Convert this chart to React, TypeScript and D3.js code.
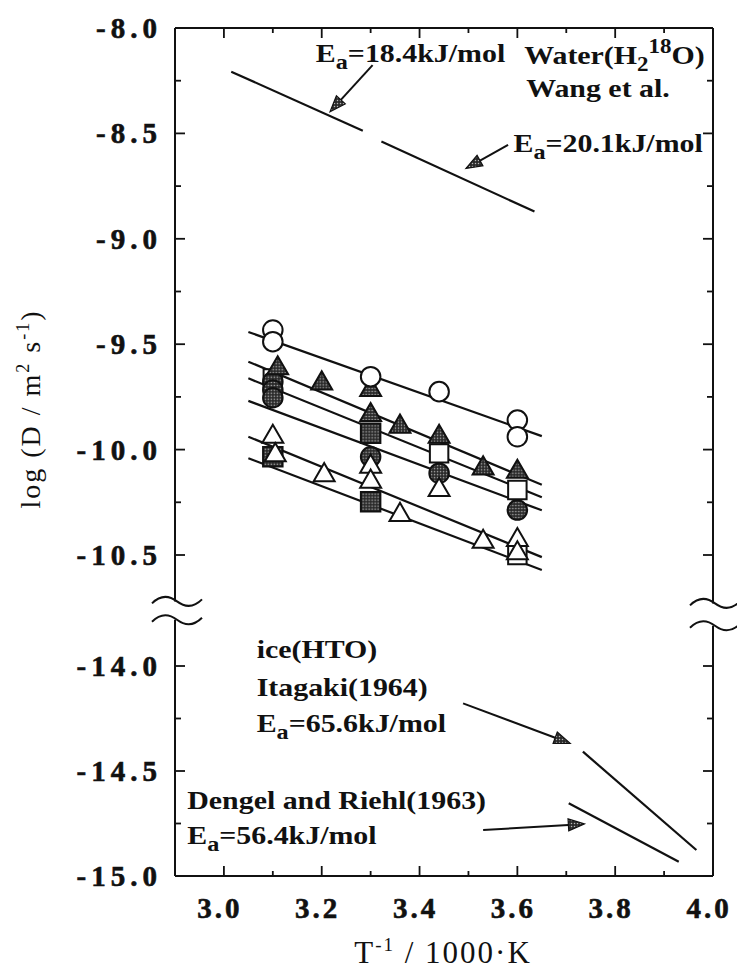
import React from 'react';
import * as d3 from 'd3';

// Arrhenius plot: log D vs 1/T, broken y axis (water above, ice below).

const W = 737;
const H = 972;
const FONT = '"Liberation Serif", "Times New Roman", serif';

const xMajor = [3.0, 3.2, 3.4, 3.6, 3.8, 4.0];
const xMinor = [3.1, 3.3, 3.5, 3.7, 3.9];
const yUpperMajor = [-8.0, -8.5, -9.0, -9.5, -10.0, -10.5];
const yUpperMinor = [-8.25, -8.75, -9.25, -9.75, -10.25];
const yLowerMajor = [-14.0, -14.5, -15.0];
const yLowerMinor = [-14.25, -14.75];

// Wang et al. water (H2 18O) lines
const waterLines = [
  [[3.015, -8.207], [3.284, -8.487]],
  [[3.322, -8.539], [3.635, -8.871]],
];

// ice (HTO) lines: Itagaki, Dengel and Riehl
const iceLines = [
  [[3.734, -14.408], [3.966, -14.876]],
  [[3.705, -14.654], [3.93, -14.932]],
];

// fitted lines through the measured points
const fitLines = [
  [[3.05, -9.442], [3.65, -9.936]],
  [[3.05, -9.583], [3.65, -10.167]],
  [[3.05, -9.662], [3.65, -10.226]],
  [[3.05, -9.769], [3.65, -10.288]],
  [[3.05, -9.939], [3.65, -10.51]],
  [[3.05, -10.041], [3.65, -10.571]],
];

const openCircles = [
  [3.1, -9.433], [3.1, -9.488], [3.3, -9.654], [3.44, -9.725], [3.6, -9.86], [3.6, -9.939],
];
const filledTriangles = [
  [3.11, -9.614], [3.2, -9.686], [3.3, -9.717], [3.3, -9.836], [3.36, -9.891],
  [3.44, -9.939], [3.53, -10.089], [3.6, -10.105],
];
const openSquares = [
  [3.1, -9.662], [3.44, -10.018], [3.6, -10.192], [3.6, -10.5],
];
const filledSquares = [
  [3.3, -9.923], [3.1, -10.034], [3.3, -10.247],
];
const filledCircles = [
  [3.1, -9.678], [3.1, -9.717], [3.1, -9.754], [3.3, -10.034], [3.44, -10.112], [3.6, -10.287],
];
const openTriangles = [
  [3.1, -9.939], [3.105, -10.026], [3.205, -10.121], [3.3, -10.081], [3.3, -10.152],
  [3.36, -10.31], [3.44, -10.192], [3.53, -10.437], [3.6, -10.429], [3.6, -10.492],
];

// annotation arrows [start, tip]
const upperArrows = [
  [[3.304, -8.176], [3.217, -8.397]],
  [[3.581, -8.555], [3.495, -8.666]],
];
const lowerArrows = [
  [[3.489, -14.178], [3.708, -14.368]],
  [[3.53, -14.781], [3.737, -14.752]],
];

function Ea({ value }: { value: string }) {
  return (
    <>
      <tspan>E</tspan>
      <tspan dy={7} fontSize={21}>a</tspan>
      <tspan dy={-7}>={value}kJ/mol</tspan>
    </>
  );
}

function Label({ x, y, children }: { x: number; y: number; children: React.ReactNode }) {
  return (
    <g transform={`translate(${x},${y}) scale(1.15,1)`}>
      <text fontFamily={FONT} fontWeight="bold" fontSize={26} fill="#111">
        {children}
      </text>
    </g>
  );
}

function Arrow({ from, to }: { from: number[]; to: number[] }) {
  const dx = to[0] - from[0];
  const dy = to[1] - from[1];
  const len = Math.hypot(dx, dy);
  const ux = dx / len;
  const uy = dy / len;
  const hl = 16;
  const hw = 6;
  const bx = to[0] - ux * hl;
  const by = to[1] - uy * hl;
  const pts = [
    [to[0], to[1]],
    [bx - uy * hw, by + ux * hw],
    [bx + uy * hw, by - ux * hw],
  ];
  return (
    <g>
      <line x1={from[0]} y1={from[1]} x2={bx} y2={by} stroke="#111" strokeWidth={2} />
      <polygon points={pts.map((p) => p.join(',')).join(' ')} fill="url(#stipple)" stroke="#111" strokeWidth={1.2} />
    </g>
  );
}

const tilde = 'M-25,2 C-17,-6 -8,-6 0,0 C8,6 17,6 25,-2';

export default function App() {
  const x = d3.scaleLinear().domain([2.9, 4.0]).range([175, 713]);
  const yUp = d3.scaleLinear().domain([-8.0, -10.5]).range([28, 555]);
  const yLo = d3.scaleLinear().domain([-14.0, -15.0]).range([666, 876]);

  const upLine = d3.line<number[]>().x((d) => x(d[0])).y((d) => yUp(d[1]));
  const loLine = d3.line<number[]>().x((d) => x(d[0])).y((d) => yLo(d[1]));

  const [left, right] = x.range();
  const top = yUp(-8.0);
  const bottom = yLo(-15.0);
  const breakUp = yUp(-10.72);
  const breakLo = yLo(-13.78);

  const markerSeries = [
    { data: openSquares, type: d3.symbolSquare, size: 340, fill: 'white' },
    { data: filledCircles, type: d3.symbolCircle, size: 300, fill: 'url(#stipple)' },
    { data: filledTriangles, type: d3.symbolTriangle, size: 190, fill: 'url(#stipple)' },
    { data: filledSquares, type: d3.symbolSquare, size: 380, fill: 'url(#stipple)' },
    { data: openCircles, type: d3.symbolCircle, size: 300, fill: 'white' },
    { data: openTriangles, type: d3.symbolTriangle, size: 190, fill: 'white' },
  ];

  const yTicks = [
    ...yUpperMajor.map((v) => ({ y: yUp(v), major: true })),
    ...yUpperMinor.map((v) => ({ y: yUp(v), major: false })),
    ...yLowerMajor.map((v) => ({ y: yLo(v), major: true })),
    ...yLowerMinor.map((v) => ({ y: yLo(v), major: false })),
  ];
  const xTicks = [
    ...xMajor.map((v) => ({ x: x(v), major: true })),
    ...xMinor.map((v) => ({ x: x(v), major: false })),
  ];

  return (
    <svg
      width={W}
      height={H}
      style={{ position: 'absolute', left: 0, top: 0, background: 'white' }}
    >
      <defs>
        <pattern id="stipple" width={3} height={3} patternUnits="userSpaceOnUse">
          <rect width={3} height={3} fill="#2a2a2a" />
          <circle cx={1.5} cy={1.5} r={0.75} fill="#b8b8b8" />
        </pattern>
      </defs>
      <rect width={W} height={H} fill="white" />

      {/* frame */}
      <g stroke="#111" strokeWidth={2} fill="none">
        <line x1={left} x2={right} y1={top} y2={top} />
        <line x1={left} x2={right} y1={bottom} y2={bottom} />
        <line x1={left} x2={left} y1={top} y2={breakUp} />
        <line x1={left} x2={left} y1={breakLo} y2={bottom} />
        <line x1={right} x2={right} y1={top} y2={breakUp + 2} />
        <line x1={right} x2={right} y1={breakLo + 6} y2={bottom} />
        <path d={tilde} transform={`translate(${left + 2},${breakUp})`} />
        <path d={tilde} transform={`translate(${left + 2},${breakLo})`} />
        <path d={tilde} transform={`translate(${right + 2},${breakUp + 2})`} />
        <path d={tilde} transform={`translate(${right + 2},${breakLo + 6})`} />
      </g>

      {/* ticks */}
      <g stroke="#111" strokeWidth={1.8}>
        {yTicks.map((t, i) => (
          <g key={`yt${i}`}>
            <line x1={left} x2={left + (t.major ? 10 : 6)} y1={t.y} y2={t.y} />
            <line x1={right} x2={right - (t.major ? 10 : 6)} y1={t.y} y2={t.y} />
          </g>
        ))}
        {xTicks.map((t, i) => (
          <g key={`xt${i}`}>
            <line x1={t.x} x2={t.x} y1={bottom} y2={bottom - (t.major ? 10 : 5)} />
            <line x1={t.x} x2={t.x} y1={top} y2={top + (t.major ? 10 : 5)} />
          </g>
        ))}
      </g>

      {/* tick labels */}
      <g
        fontFamily={FONT}
        fontWeight="bold"
        fontSize={29}
        fill="#111"
        stroke="#111"
        strokeWidth={0.6}
        letterSpacing={5}
      >
        {yUpperMajor.map((v) => (
          <text key={`yl${v}`} x={162} y={yUp(v) + 10} textAnchor="end">
            {v.toFixed(1)}
          </text>
        ))}
        {yLowerMajor.map((v) => (
          <text key={`yl${v}`} x={162} y={yLo(v) + 10} textAnchor="end">
            {v.toFixed(1)}
          </text>
        ))}
      </g>
      <g
        fontFamily={FONT}
        fontWeight="bold"
        fontSize={29}
        fill="#111"
        stroke="#111"
        strokeWidth={0.6}
        letterSpacing={3}
      >
        {xMajor.map((v) => (
          <text key={`xl${v}`} x={x(v) - 4} y={918} textAnchor="middle">
            {v.toFixed(1)}
          </text>
        ))}
      </g>

      {/* axis titles */}
      <text
        x={443}
        y={963}
        textAnchor="middle"
        fontFamily={FONT}
        fontSize={31}
        letterSpacing={2}
        fill="#111"
      >
        T<tspan dy={-12} fontSize={19}>-1</tspan>
        <tspan dy={12}> / 1000·K</tspan>
      </text>
      <text
        transform={`translate(40,409) rotate(-90)`}
        textAnchor="middle"
        fontFamily={FONT}
        fontSize={28}
        letterSpacing={2}
        fill="#111"
      >
        log (D / m<tspan dy={-11} fontSize={18}>2</tspan>
        <tspan dy={11}> s</tspan>
        <tspan dy={-11} fontSize={18}>-1</tspan>
        <tspan dy={11}>)</tspan>
      </text>

      {/* lines */}
      <g stroke="#111" strokeWidth={2.2} fill="none">
        {waterLines.map((l, i) => (
          <path key={`w${i}`} d={upLine(l) ?? ''} />
        ))}
        {fitLines.map((l, i) => (
          <path key={`f${i}`} d={upLine(l) ?? ''} />
        ))}
        {iceLines.map((l, i) => (
          <path key={`i${i}`} d={loLine(l) ?? ''} />
        ))}
      </g>

      {/* markers */}
      {markerSeries.map((s, si) => {
        const path = d3.symbol().type(s.type).size(s.size)() ?? '';
        return (
          <g key={`m${si}`}>
            {s.data.map((d, i) => (
              <path
                key={i}
                d={path}
                transform={`translate(${x(d[0])},${yUp(d[1])})`}
                fill={s.fill}
                stroke="#111"
                strokeWidth={2}
              />
            ))}
          </g>
        );
      })}

      {/* arrows */}
      {upperArrows.map((a, i) => (
        <Arrow
          key={`ua${i}`}
          from={[x(a[0][0]), yUp(a[0][1])]}
          to={[x(a[1][0]), yUp(a[1][1])]}
        />
      ))}
      {lowerArrows.map((a, i) => (
        <Arrow
          key={`la${i}`}
          from={[x(a[0][0]), yLo(a[0][1])]}
          to={[x(a[1][0]), yLo(a[1][1])]}
        />
      ))}

      {/* annotations */}
      <Label x={x(3.188)} y={yUp(-8.16)}>
        <Ea value="18.4" />
      </Label>
      <Label x={x(3.614)} y={yUp(-8.171)}>
        Water(H<tspan dy={7} fontSize={20}>2</tspan>
        <tspan dy={-18} fontSize={20}>18</tspan>
        <tspan dy={11}>O)</tspan>
      </Label>
      <Label x={x(3.618)} y={yUp(-8.326)}>
        Wang et al.
      </Label>
      <Label x={x(3.592)} y={yUp(-8.587)}>
        <Ea value="20.1" />
      </Label>
      <Label x={x(3.067)} y={yLo(-13.962)}>
        ice(HTO)
      </Label>
      <Label x={x(3.067)} y={yLo(-14.143)}>
        Itagaki(1964)
      </Label>
      <Label x={x(3.067)} y={yLo(-14.313)}>
        <Ea value="65.6" />
      </Label>
      <Label x={x(2.925)} y={yLo(-14.681)}>
        Dengel and Riehl(1963)
      </Label>
      <Label x={x(2.925)} y={yLo(-14.848)}>
        <Ea value="56.4" />
      </Label>
    </svg>
  );
}
